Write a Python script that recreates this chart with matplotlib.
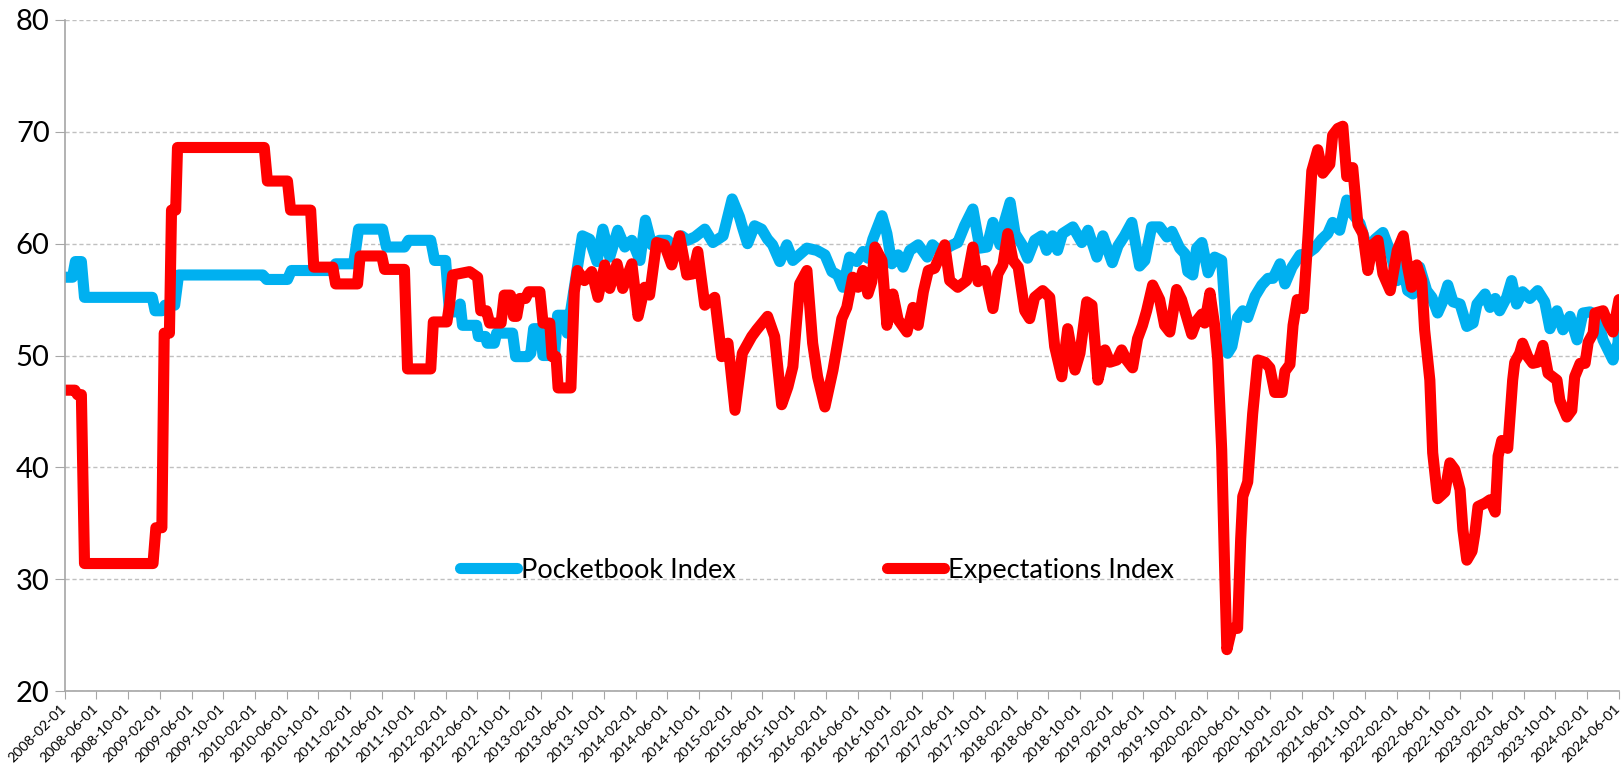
import numpy as np
import pandas as pd
import matplotlib
matplotlib.use("Agg")
import matplotlib.pyplot as plt
import matplotlib.dates as mdates
import matplotlib.transforms as mtransforms

plt.rcParams['font.family'] = ['Lato', 'DejaVu Sans']

# Pocketbook Index
pb_dates = [
    "2008-02-01", "2008-03-01", "2008-03-12", "2008-04-04", "2008-04-16", "2009-01-01",
    "2009-01-12", "2009-02-07", "2009-02-19", "2009-03-28", "2009-04-12", "2010-03-01",
    "2010-03-16", "2010-06-04", "2010-06-19", "2010-11-25", "2010-12-06", "2011-02-13",
    "2011-03-04", "2011-06-04", "2011-06-19", "2011-08-27", "2011-09-12", "2011-12-06",
    "2011-12-21", "2012-02-01", "2012-02-16", "2012-03-18", "2012-03-28", "2012-04-06",
    "2012-05-30", "2012-06-06", "2012-07-03", "2012-07-10", "2012-08-06", "2012-08-15",
    "2012-10-15", "2012-10-27", "2012-12-12", "2012-12-24", "2013-01-04", "2013-01-28",
    "2013-02-09", "2013-03-25", "2013-04-06", "2013-05-03", "2013-05-13", "2013-07-10",
    "2013-08-07", "2013-09-04", "2013-09-27", "2013-10-23", "2013-11-23", "2013-12-20",
    "2014-01-16", "2014-02-16", "2014-03-09", "2014-04-02", "2014-05-02", "2014-06-02",
    "2014-06-29", "2014-07-26", "2014-08-18", "2014-09-15", "2014-10-23", "2014-11-23",
    "2015-01-01", "2015-02-05", "2015-03-05", "2015-03-16", "2015-04-05", "2015-05-02",
    "2015-05-29", "2015-06-21", "2015-07-10", "2015-08-07", "2015-09-03", "2015-09-26",
    "2015-11-19", "2015-12-27", "2016-01-27", "2016-02-23", "2016-03-16", "2016-04-05",
    "2016-05-01", "2016-05-28", "2016-06-21", "2016-07-10", "2016-07-29", "2016-09-02",
    "2016-09-21", "2016-10-10", "2016-11-03", "2016-11-22", "2016-12-18", "2017-01-19",
    "2017-02-23", "2017-03-15", "2017-04-12", "2017-05-08", "2017-06-01", "2017-06-20",
    "2017-07-16", "2017-08-17", "2017-09-13", "2017-10-10", "2017-11-02", "2017-11-29",
    "2017-12-18", "2018-01-07", "2018-01-26", "2018-02-22", "2018-03-15", "2018-04-11",
    "2018-05-08", "2018-05-27", "2018-06-19", "2018-07-08", "2018-07-27", "2018-09-05",
    "2018-10-09", "2018-11-02", "2018-12-06", "2018-12-29", "2019-02-03", "2019-02-25",
    "2019-03-22", "2019-04-19", "2019-05-19", "2019-06-08", "2019-07-04", "2019-08-04",
    "2019-09-01", "2019-09-20", "2019-10-20", "2019-11-09", "2019-11-20", "2019-12-09",
    "2019-12-24", "2020-01-13", "2020-02-06", "2020-03-02", "2020-03-29", "2020-04-10",
    "2020-04-21", "2020-05-07", "2020-05-29", "2020-06-18", "2020-07-07", "2020-08-04",
    "2020-08-30", "2020-09-23", "2020-10-12", "2020-11-08", "2020-11-27", "2020-12-24",
    "2021-01-24", "2021-02-20", "2021-03-21", "2021-04-17", "2021-05-10", "2021-05-29",
    "2021-06-25", "2021-07-22", "2021-08-03", "2021-09-11", "2021-10-11", "2021-11-08",
    "2021-12-08", "2022-01-05", "2022-02-01", "2022-02-20", "2022-03-13", "2022-04-02",
    "2022-04-28", "2022-05-25", "2022-06-14", "2022-07-06", "2022-07-25", "2022-08-14",
    "2022-09-03", "2022-09-30", "2022-10-26", "2022-11-19", "2022-12-04", "2023-01-04",
    "2023-01-23", "2023-02-12", "2023-03-01", "2023-03-28", "2023-04-16", "2023-05-05",
    "2023-05-28", "2023-06-25", "2023-07-25", "2023-08-21", "2023-09-10", "2023-10-07",
    "2023-10-30", "2023-11-26", "2023-12-23", "2024-01-15", "2024-02-11", "2024-03-08",
    "2024-04-01", "2024-05-09", "2024-05-28", "2024-06-01",
]
pb_vals = [
    57.0, 57.0, 58.4, 58.4, 55.2, 55.2,
    54.0, 54.0, 54.5, 54.5, 57.2, 57.2,
    56.8, 56.8, 57.6, 57.6, 58.2, 58.2,
    61.3, 61.3, 59.7, 59.7, 60.3, 60.3,
    58.5, 58.5, 53.9, 53.9, 54.6, 52.7,
    52.7, 51.7, 51.7, 51.1, 51.1, 52.0,
    52.0, 49.9, 49.9, 50.2, 52.4, 52.4,
    50.0, 50.0, 53.6, 53.6, 52.0, 60.7,
    60.4, 58.4, 61.3, 58.8, 61.2, 59.7,
    60.3, 58.5, 62.1, 59.9, 60.3, 60.3,
    59.7, 60.7, 60.3, 60.6, 61.3, 60.1,
    60.7, 64.0, 62.4, 61.5, 60.0, 61.6,
    61.3, 60.4, 59.9, 58.4, 59.9, 58.5,
    59.6, 59.4, 59.0, 57.5, 57.2, 56.1,
    58.8, 58.4, 59.3, 58.7, 60.4, 62.5,
    60.9, 58.2, 59.0, 57.9, 59.4, 59.9,
    58.8, 59.9, 59.3, 59.6, 59.9, 60.1,
    61.6, 63.1, 59.6, 59.7, 61.9, 59.9,
    62.1, 63.7, 60.9, 59.9, 58.7, 60.3,
    60.7, 59.4, 60.7, 59.4, 60.9, 61.5,
    60.1, 61.2, 58.8, 60.7, 58.3, 59.8,
    60.7, 61.9, 58.0, 58.5, 61.5, 61.5,
    60.6, 61.1, 59.6, 59.1, 57.5, 57.2,
    59.6, 60.1, 57.4, 58.8, 58.5, 54.3,
    50.2, 50.8, 53.4, 54.0, 53.4, 55.3,
    56.3, 56.9, 56.9, 58.2, 56.4, 57.9,
    59.0, 59.1, 59.6, 60.4, 60.9, 61.9,
    61.2, 63.9, 63.0, 61.8, 59.4, 60.4,
    61.0, 59.3, 56.7, 58.4, 55.8, 55.5,
    57.9, 55.8, 55.2, 53.8, 54.8, 56.3,
    54.8, 54.6, 52.6, 52.9, 54.6, 55.5,
    54.3, 55.1, 54.0, 55.2, 56.7, 54.6,
    55.7, 55.1, 55.8, 54.8, 52.4, 54.0,
    52.3, 53.5, 51.4, 53.8, 53.9, 53.5,
    51.4, 49.6, 51.1, 52.2,
]

# Expectations Index
ex_dates = [
    "2008-02-01", "2008-03-10", "2008-03-20", "2008-04-04", "2008-04-16", "2009-01-04",
    "2009-01-15", "2009-02-07", "2009-02-16", "2009-03-08", "2009-03-16", "2009-04-01",
    "2009-04-08", "2010-03-07", "2010-03-19", "2010-06-04", "2010-06-16", "2010-09-01",
    "2010-09-13", "2010-11-25", "2010-12-06", "2011-02-28", "2011-03-10", "2011-06-01",
    "2011-06-12", "2011-08-27", "2011-09-08", "2011-12-06", "2011-12-16", "2012-02-06",
    "2012-02-16", "2012-02-28", "2012-05-03", "2012-06-03", "2012-06-15", "2012-07-07",
    "2012-07-19", "2012-09-01", "2012-09-13", "2012-10-07", "2012-10-19", "2012-10-31",
    "2012-11-12", "2012-12-04", "2012-12-16", "2013-01-28", "2013-02-09", "2013-03-07",
    "2013-03-16", "2013-03-31", "2013-04-08", "2013-05-27", "2013-06-09", "2013-06-21",
    "2013-07-18", "2013-08-15", "2013-09-08", "2013-10-04", "2013-10-23", "2013-11-20",
    "2013-12-12", "2014-01-16", "2014-02-09", "2014-03-06", "2014-03-25", "2014-04-21",
    "2014-05-21", "2014-06-18", "2014-07-18", "2014-08-15", "2014-09-07", "2014-09-26",
    "2014-10-23", "2014-11-30", "2014-12-27", "2015-01-20", "2015-02-16", "2015-03-16",
    "2015-04-21", "2015-05-10", "2015-06-21", "2015-07-18", "2015-08-14", "2015-09-07",
    "2015-09-26", "2015-10-22", "2015-11-19", "2015-12-11", "2015-12-30", "2016-01-27",
    "2016-02-27", "2016-04-01", "2016-04-20", "2016-05-13", "2016-06-02", "2016-06-21",
    "2016-07-10", "2016-07-25", "2016-08-06", "2016-09-02", "2016-09-21", "2016-10-14",
    "2016-11-03", "2016-12-07", "2016-12-30", "2017-01-19", "2017-02-08", "2017-02-27",
    "2017-03-23", "2017-05-01", "2017-05-20", "2017-06-20", "2017-07-24", "2017-08-17",
    "2017-09-06", "2017-10-02", "2017-11-02", "2017-11-21", "2017-12-10", "2017-12-29",
    "2018-01-18", "2018-02-07", "2018-03-04", "2018-03-23", "2018-04-11", "2018-05-12",
    "2018-06-08", "2018-06-27", "2018-07-24", "2018-08-16", "2018-09-13", "2018-10-02",
    "2018-10-28", "2018-11-17", "2018-12-10", "2019-01-06", "2019-01-25", "2019-02-21",
    "2019-03-11", "2019-03-30", "2019-04-22", "2019-05-11", "2019-05-30", "2019-06-15",
    "2019-07-08", "2019-08-04", "2019-08-23", "2019-09-12", "2019-10-08", "2019-10-27",
    "2019-11-16", "2019-12-05", "2019-12-24", "2020-01-13", "2020-01-24", "2020-02-13",
    "2020-03-02", "2020-03-14", "2020-03-29", "2020-04-10", "2020-04-18", "2020-05-07",
    "2020-05-29", "2020-06-10", "2020-06-18", "2020-07-07", "2020-07-26", "2020-08-15",
    "2020-09-11", "2020-09-30", "2020-10-19", "2020-11-16", "2020-11-27", "2020-12-16",
    "2020-12-28", "2021-01-13", "2021-02-05", "2021-02-24", "2021-03-10", "2021-04-02",
    "2021-04-21", "2021-05-18", "2021-05-29", "2021-06-18", "2021-07-07", "2021-07-22",
    "2021-08-14", "2021-09-03", "2021-09-22", "2021-10-11", "2021-10-30", "2021-11-19",
    "2021-12-08", "2022-01-05", "2022-02-01", "2022-02-24", "2022-03-13", "2022-03-28",
    "2022-04-17", "2022-05-06", "2022-05-17", "2022-06-06", "2022-06-17", "2022-07-06",
    "2022-08-03", "2022-08-22", "2022-09-10", "2022-09-30", "2022-10-11", "2022-10-26",
    "2022-11-15", "2022-11-26", "2022-12-08", "2023-01-04", "2023-01-23", "2023-02-12",
    "2023-02-23", "2023-03-09", "2023-04-01", "2023-04-20", "2023-04-28", "2023-05-17",
    "2023-05-28", "2023-06-17", "2023-07-06", "2023-07-25", "2023-08-14", "2023-09-03",
    "2023-10-07", "2023-10-18", "2023-11-14", "2023-12-03", "2023-12-14", "2024-01-04",
    "2024-01-23", "2024-02-04", "2024-02-23", "2024-03-01", "2024-04-01", "2024-04-20",
    "2024-05-09", "2024-06-01",
]
ex_vals = [
    46.9, 46.9, 46.5, 46.5, 31.4, 31.4,
    34.6, 34.6, 52.0, 52.0, 63.0, 63.0,
    68.6, 68.6, 65.6, 65.6, 63.0, 63.0,
    57.9, 57.9, 56.4, 56.4, 58.9, 58.9,
    57.7, 57.7, 48.8, 48.8, 53.0, 53.0,
    54.5, 57.2, 57.5, 57.0, 54.0, 54.0,
    52.9, 52.9, 55.4, 55.4, 53.5, 53.5,
    55.1, 55.1, 55.7, 55.7, 52.9, 52.9,
    49.9, 49.9, 47.1, 47.1, 55.7, 57.6,
    56.7, 57.5, 55.2, 58.1, 56.0, 58.2,
    56.0, 58.2, 53.5, 56.1, 55.4, 60.1,
    59.9, 58.1, 60.7, 57.2, 57.3, 59.3,
    54.5, 55.2, 49.9, 51.1, 45.1, 50.2,
    51.7, 52.3, 53.5, 51.7, 45.6, 47.2,
    49.0, 56.4, 57.6, 51.1, 48.1, 45.4,
    48.7, 53.3, 54.3, 57.0, 56.1, 57.6,
    55.5, 56.6, 59.7, 58.5, 52.7, 55.5,
    53.2, 52.1, 54.3, 52.7, 55.7, 57.6,
    57.8, 59.9, 56.7, 56.1, 56.7, 59.7,
    56.6, 57.6, 54.2, 57.3, 58.1, 60.9,
    58.5, 57.9, 54.0, 53.3, 55.2, 55.8,
    55.2, 50.8, 48.1, 52.4, 48.7, 50.2,
    54.8, 54.5, 47.8, 50.5, 49.4, 49.6,
    50.5, 49.6, 48.9, 51.5, 52.7, 54.0,
    56.3, 55.0, 52.7, 52.1, 55.9, 55.0,
    53.4, 51.9, 53.1, 53.7, 52.9, 55.6,
    52.7, 49.6, 41.6, 30.4, 23.7, 25.6,
    25.6, 33.6, 37.4, 38.7, 44.8, 49.6,
    49.4, 48.9, 46.7, 46.7, 48.6, 49.2,
    52.7, 55.0, 54.2, 60.9, 66.5, 68.4,
    66.3, 67.1, 69.7, 70.3, 70.5, 66.0,
    66.8, 61.7, 60.9, 57.6, 59.9, 60.3,
    57.3, 55.8, 59.4, 60.7, 57.9, 56.1,
    58.1, 56.7, 52.3, 47.8, 41.3, 37.2,
    37.8, 40.4, 39.8, 38.0, 34.4, 31.7,
    32.5, 34.1, 36.5, 36.8, 37.1, 36.0,
    41.0, 42.4, 41.7, 47.8, 49.4, 50.2,
    51.1, 49.9, 49.3, 49.4, 50.9, 48.4,
    47.8, 46.0, 44.5, 45.1, 48.1, 49.3,
    49.3, 51.2, 52.0, 53.8, 54.0, 52.9,
    52.1, 55.0,
]

pb = pd.Series(pb_vals, index=pd.to_datetime(pb_dates))
ex = pd.Series(ex_vals, index=pd.to_datetime(ex_dates))

fig = plt.figure(figsize=(16.24, 7.69), dpi=100)
ax = fig.add_axes([0.040, 0.1014, 0.9569, 0.8726])

ax.plot(pb.index, pb.values, color="#00B0F0", lw=8, solid_joinstyle="round",
        solid_capstyle="round", label="Pocketbook Index")
ax.plot(ex.index, ex.values, color="#FF0000", lw=8, solid_joinstyle="round",
        solid_capstyle="round", label="Expectations Index")

ax.set_ylim(20, 80)
ax.set_yticks(np.arange(20, 81, 10))
ax.set_xlim(pd.Timestamp("2008-02-01"), pd.Timestamp("2024-06-01"))
xt = pd.date_range("2008-02-01", "2024-06-01", freq="4MS")
ax.set_xticks(xt)
ax.xaxis.set_major_formatter(mdates.DateFormatter("%Y-%m-%d"))
ax.tick_params(axis="y", labelsize=21, length=7, color="#A6A6A6", pad=4)
ax.tick_params(axis="x", length=6, color="#A6A6A6", pad=2)

# nudge the rotated date labels so the last one stays inside the canvas
shift = mtransforms.ScaledTranslation(-5 / 100, 0, fig.dpi_scale_trans)
for lab in ax.get_xticklabels():
    lab.set_rotation(45)
    lab.set_ha("right")
    lab.set_rotation_mode("anchor")
    lab.set_fontsize(10.2)
    lab.set_transform(lab.get_transform() + shift)

ax.grid(axis="y", color="#C0C0C0", linestyle=(0, (3, 2)), linewidth=1)
ax.set_axisbelow(True)
for s in ["top", "right"]:
    ax.spines[s].set_visible(False)
for s in ["left", "bottom"]:
    ax.spines[s].set_color("#A6A6A6")
    ax.spines[s].set_linewidth(1.2)

ax.legend(loc="center", bbox_to_anchor=(0.484, 0.18), ncol=2, frameon=False,
          fontsize=19.5, handlelength=2.1, handletextpad=0.15, columnspacing=5.6)

fig.savefig("out.png", dpi=100)
